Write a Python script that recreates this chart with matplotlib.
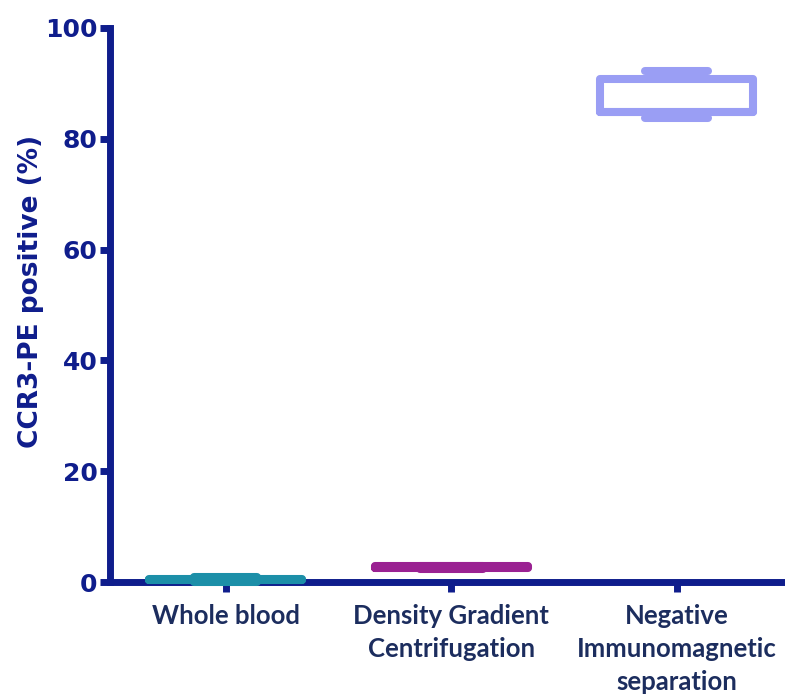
import matplotlib
matplotlib.use("Agg")
import matplotlib.pyplot as plt

# Groups and their box statistics (CCR3-PE positive, %)
categories = ["Whole blood", "Density Gradient\nCentrifugation", "Negative\nImmunomagnetic\nseparation"]
q1 = [0.3, 2.5, 84.8]
medians = [0.45, 2.7, 84.8]
q3 = [0.6, 2.9, 90.8]
whis_lo = [0.1, 2.4, 83.8]
whis_hi = [1.0, 3.0, 92.2]
colors = ["#1c8fa8", "#9a2192", "#9a9ef4"]
y_ticks = [0, 20, 40, 60, 80, 100]

navy = "#0f1d8c"
label_col = "#1c2d5e"

fig = plt.figure(figsize=(7.85, 6.98), dpi=100)
ax = fig.add_axes([0.140, 0.166, 0.860, 0.794])

positions = [1, 2, 3]
for i, pos in enumerate(positions):
    stats = [dict(q1=q1[i], med=medians[i], q3=q3[i],
                  whislo=whis_lo[i], whishi=whis_hi[i], fliers=[])]
    lw = 5.8
    style = dict(color=colors[i], linewidth=lw, solid_capstyle="round",
                 solid_joinstyle="round")
    bp = ax.bxp(stats, positions=[pos], widths=0.68, showfliers=False,
                boxprops=style, medianprops=style, whiskerprops=style,
                capprops=style, capwidths=0.28, manage_ticks=False)
    for key in ("boxes", "medians", "whiskers", "caps"):
        for artist in bp[key]:
            artist.set_clip_on(False)
            artist.set_zorder(5)

ax.set_xlim(0.486, 3.48)
ax.set_ylim(0, 100)

ax.set_xticks(positions)
ax.set_xticklabels(categories, fontfamily="Lato", fontweight="bold",
                   fontsize=18.5, color=label_col, linespacing=1.45)
ax.set_yticks(y_ticks)
ax.set_yticklabels([str(t) for t in y_ticks], fontfamily="DejaVu Sans",
                   fontweight="bold", fontsize=18, color=navy)

ax.tick_params(axis="both", direction="out", length=7, width=5, color=navy)
ax.tick_params(axis="y", pad=2)
ax.tick_params(axis="x", pad=9)

for side in ("top", "right"):
    ax.spines[side].set_visible(False)
for side in ("left", "bottom"):
    ax.spines[side].set_color(navy)
    ax.spines[side].set_linewidth(5)
    ax.spines[side].set_capstyle("projecting")

ax.set_ylabel("CCR3-PE positive (%)", fontfamily="DejaVu Sans",
              fontweight="bold", fontsize=19, color=navy)
ax.yaxis.set_label_coords(-0.098, 0.525)

fig.savefig("out.png", dpi=100, facecolor="white")
